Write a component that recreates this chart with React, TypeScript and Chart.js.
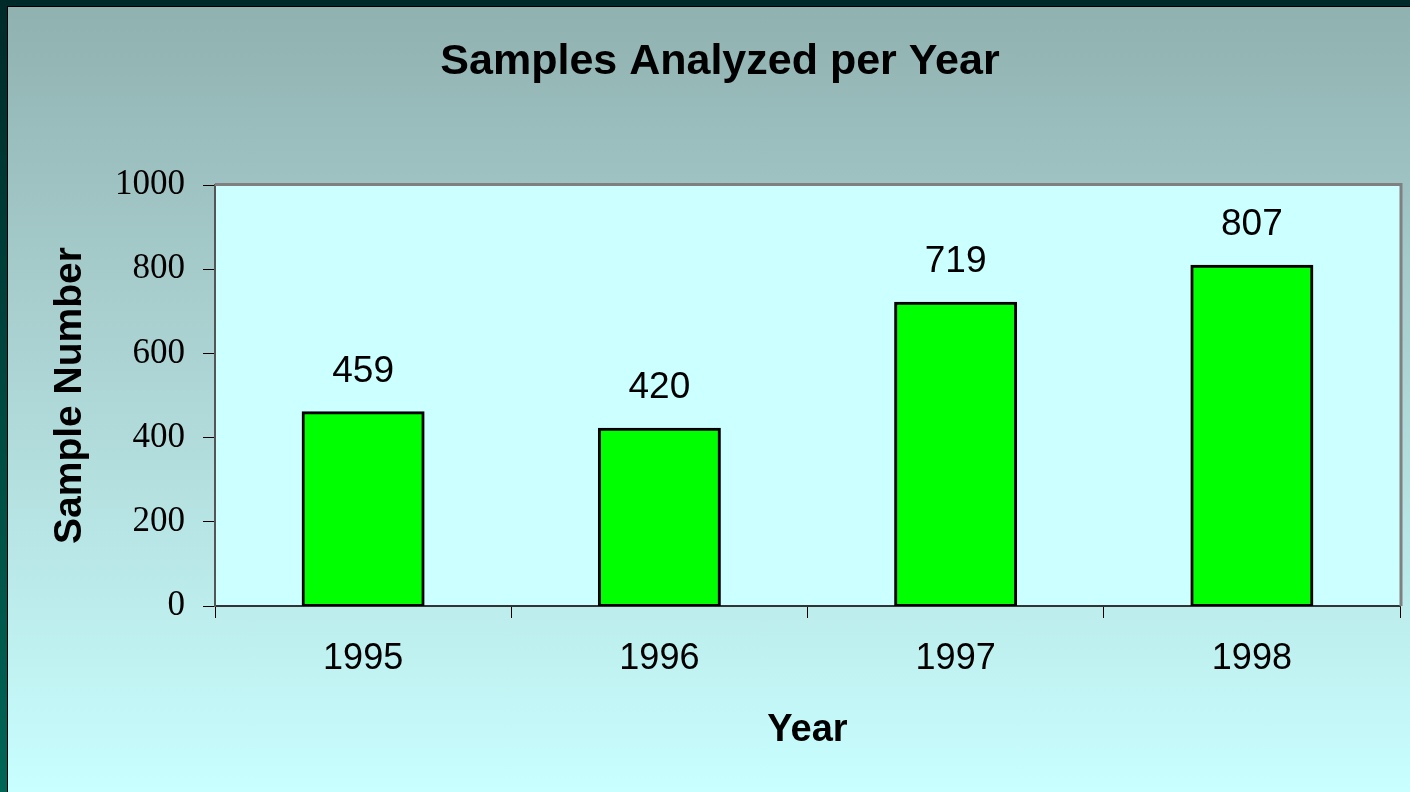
import React, { useEffect, useRef } from "react";
import { Chart, registerables } from "chart.js";

Chart.register(...registerables);

const categories = ["1995", "1996", "1997", "1998"];
const sampleCounts = [459, 420, 719, 807];
const yTickValues = [0, 200, 400, 600, 800, 1000];

const SANS = "'Liberation Sans', Arial, sans-serif";
const SERIF = "'Liberation Serif', 'Times New Roman', serif";

const W = 1410;
const H = 792;
const PLOT_LEFT = 215;
const PLOT_BOTTOM = 606;

const plotDecor = {
  id: "plotDecor",
  beforeDraw(chart: any) {
    const { ctx, chartArea } = chart;
    ctx.save();
    ctx.fillStyle = "#ccffff";
    ctx.fillRect(chartArea.left, chartArea.top, chartArea.right - chartArea.left, chartArea.bottom - chartArea.top);
    ctx.restore();
  },
  afterDraw(chart: any) {
    const { ctx, chartArea } = chart;
    ctx.save();
    ctx.strokeStyle = "#808080";
    ctx.lineWidth = 3;
    ctx.beginPath();
    ctx.moveTo(chartArea.left, chartArea.top - 0.5);
    ctx.lineTo(chartArea.right + 1, chartArea.top - 0.5);
    ctx.lineTo(chartArea.right + 1, chartArea.bottom);
    ctx.stroke();

    const meta = chart.getDatasetMeta(0);
    ctx.fillStyle = "#000";
    ctx.font = `37px ${SANS}`;
    ctx.textAlign = "center";
    ctx.textBaseline = "alphabetic";
    meta.data.forEach((bar: any, i: number) => {
      ctx.fillText(String(sampleCounts[i]), bar.x, bar.y - 31);
    });
    ctx.restore();
  },
};

export default function App() {
  const ref = useRef<HTMLCanvasElement | null>(null);

  useEffect(() => {
    if (!ref.current) return;
    const chart = new Chart(ref.current, {
      type: "bar",
      data: {
        labels: categories,
        datasets: [
          {
            data: sampleCounts,
            backgroundColor: "#00ff00",
            borderColor: "#000000",
            borderWidth: 3,
            borderSkipped: false,
            inflateAmount: 1.5,
            barPercentage: 0.405,
            categoryPercentage: 1,
          } as any,
        ],
      },
      options: {
        animation: false,
        responsive: false,
        layout: { padding: { left: 40, right: 10, top: 11, bottom: 10 } },
        plugins: {
          legend: { display: false },
          tooltip: { enabled: false },
          title: {
            display: true,
            text: "Samples Analyzed per Year",
            color: "#000",
            font: { family: SANS, size: 43, weight: "bold" },
            padding: { top: 25, bottom: 97.4 },
          },
        },
        scales: {
          x: {
            type: "category",
            afterFit(scale: any) {
              scale.height = H - PLOT_BOTTOM - 10;
            },
            grid: {
              offset: true,
              drawOnChartArea: false,
              drawTicks: true,
              tickLength: 12,
              color: "#000",
              lineWidth: 1,
            },
            border: { display: true, color: "#333", width: 2 },
            ticks: {
              color: "#000",
              font: { family: SANS, size: 36 },
              padding: 19,
            },
            title: {
              display: true,
              text: "Year",
              color: "#000",
              font: { family: SANS, size: 38, weight: "bold" },
              padding: { top: 0, bottom: 29 },
            },
          },
          y: {
            min: 0,
            max: 1000,
            afterFit(scale: any) {
              scale.width = PLOT_LEFT - 40;
            },
            afterBuildTicks(scale: any) {
              scale.ticks = yTickValues.map((v) => ({ value: v }));
            },
            grid: {
              drawOnChartArea: false,
              drawTicks: true,
              tickLength: 12,
              color: "#000",
              lineWidth: 1,
            },
            border: { display: true, color: "#555", width: 2 },
            ticks: {
              color: "#000",
              font: { family: SERIF, size: 35 },
              padding: 18,
              callback: (v: any) => String(v),
            },
            title: {
              display: true,
              text: "Sample Number",
              color: "#000",
              font: { family: SANS, size: 39, weight: "bold" },
              padding: { top: 7, bottom: 0 },
            },
          },
        },
      },
      plugins: [plotDecor],
    });
    return () => chart.destroy();
  }, []);

  return (
    <div style={{ position: "absolute", left: 0, top: 0, width: W, height: H, overflow: "hidden" }}>
      <div
        style={{
          position: "absolute",
          left: 0,
          top: 0,
          width: W,
          height: H,
          background: "linear-gradient(to bottom, #8fb1b0 0%, #a9cfcf 40%, #c9ffff 100%)",
        }}
      />
      <div style={{ position: "absolute", left: 0, top: 0, width: W, height: 6, background: "#002a2a" }} />
      <div style={{ position: "absolute", left: 0, top: 6, width: W, height: 1, background: "#000" }} />
      <div
        style={{
          position: "absolute",
          left: 0,
          top: 0,
          width: 7,
          height: H,
          background: "linear-gradient(to bottom, #002a2a, #006655)",
        }}
      />
      <div style={{ position: "absolute", left: 7, top: 6, width: 1, height: H, background: "#000" }} />
      <canvas
        ref={ref}
        width={W}
        height={H}
        style={{ position: "absolute", left: 0, top: 0, width: W, height: H, display: "block" }}
      />
    </div>
  );
}
